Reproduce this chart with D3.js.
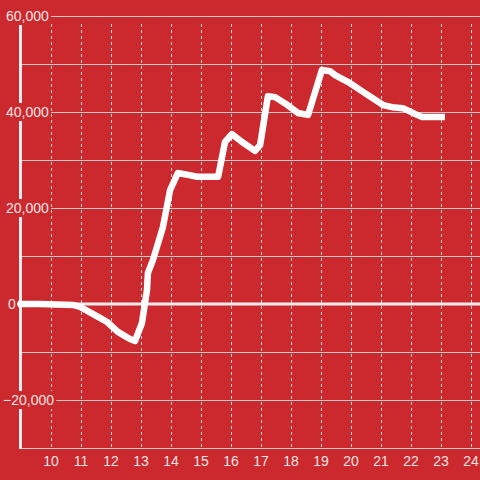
<!DOCTYPE html>
<html>
<head>
<meta charset="utf-8">
<script src="https://cdn.jsdelivr.net/npm/d3@7"></script>
<style>
  body { margin: 0; background: #cc292e; }
  svg { display: block; }
</style>
</head>
<body>
<svg id="chart" width="480" height="480"></svg>
<script>
// hour of day and value
hours = [8.9, 9.63, 10.73, 10.97, 11.63, 11.87, 12.23, 12.63, 12.8, 13.03, 13.2, 13.23,
  13.4, 13.73, 13.97, 14.23, 14.57, 14.87, 15.57, 15.8, 16.03, 16.37, 16.8, 16.97,
  17.23, 17.47, 17.87, 18.23, 18.57, 19.03, 19.3, 19.47, 19.97, 20.4, 21.07, 21.37,
  21.73, 22.2, 22.37, 23.13]
values = [0, 0, -200, -600, -2900, -3750, -5800, -7300, -7700, -4000, 2900, 6450,
  9200, 16000, 23750, 27300, 26900, 26500, 26500, 33750, 35400, 33750, 31900, 33100,
  43300, 43100, 41500, 39800, 39400, 48750, 48500, 47700, 46000, 44200, 41450, 41000,
  40800, 39400, 38950, 38950]
xTicks = [10, 11, 12, 13, 14, 15, 16, 17, 18, 19, 20, 21, 22, 23, 24]
yGrid = [-30000, -20000, -10000, 0, 10000, 20000, 30000, 40000, 50000, 60000]
yLabels = [60000, 40000, 20000, 0, -20000]

bg = "#cc292e"
svg = d3.select("#chart")
width = +svg.attr("width")
height = +svg.attr("height")
margin = {top: 16, right: 0, bottom: 32, left: 21}

x = d3.scaleLinear()
  .domain([9, 24.3])
  .range([margin.left, width - margin.right])

y = d3.scaleLinear()
  .domain([-30000, 60000])
  .range([height - margin.bottom, margin.top])

fmt = d3.format(",")

// horizontal grid
svg.append("g")
  .selectAll("line")
  .data(yGrid)
  .enter().append("line")
  .attr("x1", margin.left)
  .attr("x2", width)
  .attr("y1", d => y(d) + 0.5)
  .attr("y2", d => y(d) + 0.5)
  .attr("stroke", "#c8c8c8")
  .attr("stroke-width", 1)

// vertical dashed grid
svg.append("g")
  .selectAll("line")
  .data(xTicks)
  .enter().append("line")
  .attr("x1", d => Math.round(x(d)) + 0.5)
  .attr("x2", d => Math.round(x(d)) + 0.5)
  .attr("y1", 24)
  .attr("y2", y(-30000))
  .attr("stroke", "#d8d8d8")
  .attr("stroke-width", 1)
  .attr("stroke-dasharray", "3,3")

// left axis line
svg.append("line")
  .attr("x1", 20.5).attr("x2", 20.5)
  .attr("y1", 24).attr("y2", y(-30000) + 1)
  .attr("stroke", "#f2ecec")
  .attr("stroke-width", 3)

// zero line
svg.append("line")
  .attr("x1", 17).attr("x2", width)
  .attr("y1", y(0)).attr("y2", y(0))
  .attr("stroke", "#f2ecec")
  .attr("stroke-width", 3)

// y labels with background patches
yl = svg.append("g")
  .selectAll("g")
  .data(yLabels)
  .enter().append("g")
yl.each(function(d) {
  g = d3.select(this)
  t = g.append("text")
    .attr("x", d < 0 ? 3 : (d == 0 ? 8 : 6))
    .attr("y", y(d))
    .attr("dy", "0.36em")
    .attr("font-family", "Liberation Sans, Arial, sans-serif")
    .attr("font-size", 14)
    .attr("fill", "#f0e4e4")
    .text(fmt(d))
  if (d != 0) {
    b = t.node().getBBox()
    g.insert("rect", "text")
      .attr("x", 0)
      .attr("y", b.y - 1)
      .attr("width", b.x + b.width + 2)
      .attr("height", b.height + 2)
      .attr("fill", bg)
  }
})

// x labels
svg.append("g")
  .selectAll("text")
  .data(xTicks)
  .enter().append("text")
  .attr("x", d => x(d))
  .attr("y", 466)
  .attr("text-anchor", "middle")
  .attr("font-family", "Liberation Sans, Arial, sans-serif")
  .attr("font-size", 14)
  .attr("fill", "#f0e4e4")
  .text(d => d)

// data line
line = d3.line()
  .x((d, i) => x(hours[i]))
  .y(d => y(d))
svg.append("path")
  .datum(values)
  .attr("fill", "none")
  .attr("stroke", "#ffffff")
  .attr("stroke-width", 6.5)
  .attr("stroke-linejoin", "round")
  .attr("d", line)
</script>
</body>
</html>
